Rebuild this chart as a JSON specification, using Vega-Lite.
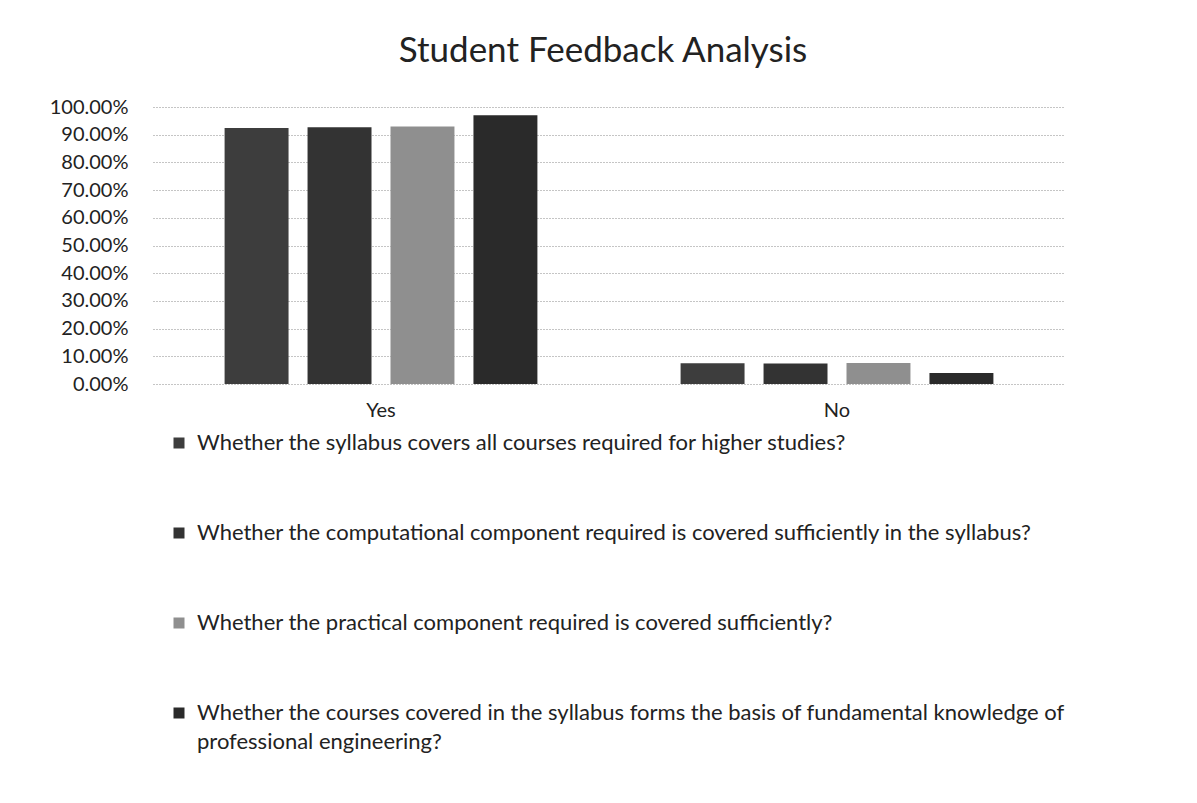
{
  "$schema": "https://vega.github.io/schema/vega-lite/v6.json",
  "autosize": {"type": "none"},
  "width": 912,
  "height": 277,
  "padding": {"left": 153, "top": 107, "right": 132, "bottom": 419},
  "background": "white",
  "config": {
    "view": {"stroke": null},
    "style": {"guide-label": {"lineHeight": 29}}
  },
  "title": {
    "text": "Student Feedback Analysis",
    "font": "Lato",
    "fontSize": 35,
    "fontWeight": "normal",
    "color": "#222222",
    "anchor": "middle",
    "frame": "group",
    "baseline": "alphabetic",
    "offset": 0,
    "dx": -6
  },
  "data": {
    "values": [
      {"answer": "Yes", "question": "Whether the syllabus covers all courses required for higher studies?", "pct": 0.924},
      {"answer": "Yes", "question": "Whether the computational component required is covered sufficiently in the syllabus?", "pct": 0.927},
      {"answer": "Yes", "question": "Whether the practical component required is covered sufficiently?", "pct": 0.93},
      {"answer": "Yes", "question": "Whether the courses covered in the syllabus forms the basis of fundamental knowledge of professional engineering?", "pct": 0.97},
      {"answer": "No", "question": "Whether the syllabus covers all courses required for higher studies?", "pct": 0.075},
      {"answer": "No", "question": "Whether the computational component required is covered sufficiently in the syllabus?", "pct": 0.074},
      {"answer": "No", "question": "Whether the practical component required is covered sufficiently?", "pct": 0.076},
      {"answer": "No", "question": "Whether the courses covered in the syllabus forms the basis of fundamental knowledge of professional engineering?", "pct": 0.04}
    ]
  },
  "mark": {"type": "bar"},
  "encoding": {
    "x": {
      "field": "answer",
      "type": "nominal",
      "sort": ["Yes", "No"],
      "scale": {"paddingInner": 0.314, "paddingOuter": 0.157},
      "axis": {
        "title": null,
        "labelAngle": 0,
        "labelFont": "Lato",
        "labelFontSize": 20,
        "labelColor": "#222222",
        "labelPadding": 16,
        "ticks": false,
        "domain": false
      }
    },
    "xOffset": {
      "field": "question",
      "type": "nominal",
      "scale": {
        "domain": [
          "Whether the syllabus covers all courses required for higher studies?",
          "Whether the computational component required is covered sufficiently in the syllabus?",
          "Whether the practical component required is covered sufficiently?",
          "Whether the courses covered in the syllabus forms the basis of fundamental knowledge of professional engineering?"
        ],
        "paddingInner": 0.229,
        "paddingOuter": 0
      }
    },
    "y": {
      "field": "pct",
      "type": "quantitative",
      "scale": {"domain": [0, 1], "nice": false},
      "axis": {
        "title": null,
        "values": [0, 0.1, 0.2, 0.3, 0.4, 0.5, 0.6, 0.7, 0.8, 0.9, 1],
        "format": ".2%",
        "labelFont": "Lato",
        "labelFontSize": 20,
        "labelColor": "#222222",
        "labelPadding": 25,
        "ticks": false,
        "domain": false,
        "grid": true,
        "gridColor": "#8a8a8a",
        "gridDash": [1, 2],
        "gridWidth": 1
      }
    },
    "color": {
      "field": "question",
      "type": "nominal",
      "scale": {
        "domain": [
          "Whether the syllabus covers all courses required for higher studies?",
          "Whether the computational component required is covered sufficiently in the syllabus?",
          "Whether the practical component required is covered sufficiently?",
          "Whether the courses covered in the syllabus forms the basis of fundamental knowledge of professional engineering?"
        ],
        "range": ["#3d3d3d", "#333333", "#8f8f8f", "#2a2a2a"]
      },
      "legend": {
        "title": null,
        "orient": "none",
        "legendX": 15,
        "legendY": 325,
        "direction": "vertical",
        "padding": 0,
        "symbolType": "square",
        "symbolSize": 121,
        "symbolStrokeWidth": 0,
        "labelFont": "Lato",
        "labelFontSize": 22,
        "labelColor": "#222222",
        "labelOffset": 7,
        "labelLimit": 0,
        "labelLineHeight": 29,
        "rowPadding": 68,
        "labelExpr": "indexof(datum.label, 'fundamental') >= 0 ? ['Whether the courses covered in the syllabus forms the basis of fundamental knowledge of', 'professional engineering?'] : datum.label"
      }
    }
  }
}
